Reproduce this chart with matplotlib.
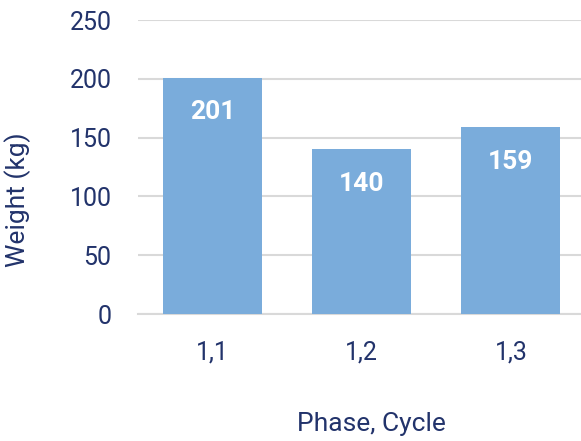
import matplotlib.pyplot as plt

# Chart data
categories = ['1,1', '1,2', '1,3']
weights = [201, 140, 159]
y_ticks = [0, 50, 100, 150, 200, 250]

navy = '#22336b'
bar_color = '#7aacdb'
grid_color = '#d9d9d9'

plt.rcParams['font.family'] = ['Roboto', 'DejaVu Sans']

fig = plt.figure(figsize=(5.81, 4.41), dpi=100)
ax = fig.add_axes([138 / 581, 127 / 441, 1 - 138 / 581, 294 / 441])

x = list(range(len(categories)))
bars = ax.bar(x, weights, width=0.665, color=bar_color, zorder=3)

# Value labels inside the bars
for xi, val in zip(x, weights):
    ax.annotate(str(val), (xi, val), xytext=(0, -25), textcoords='offset points',
                ha='center', va='center', color='white', fontsize=19,
                fontweight='bold', zorder=4)

ax.set_xlim(-0.5, 2.47)
ax.set_ylim(0, 250)
ax.set_yticks(y_ticks)
ax.set_xticks(x)
ax.set_xticklabels(categories)

ax.grid(axis='y', color=grid_color, linewidth=1.5, zorder=0)
for side in ['top', 'right', 'left']:
    ax.spines[side].set_visible(False)
ax.spines['bottom'].set_color(grid_color)
ax.spines['bottom'].set_linewidth(1.5)
ax.spines['bottom'].set_zorder(2)

ax.tick_params(axis='both', length=0, labelsize=18, labelcolor=navy)
ax.tick_params(axis='y', pad=19)
ax.tick_params(axis='x', pad=19)

# Axis titles
fig.text(371 / 581, 1 - 424 / 441, 'Phase, Cycle', ha='center', va='center',
         fontsize=19, color=navy)
fig.text(18 / 581, 1 - 200 / 441, 'Weight (kg)', ha='center', va='center',
         rotation=90, fontsize=19, color=navy)

fig.savefig('out.png', dpi=100)
